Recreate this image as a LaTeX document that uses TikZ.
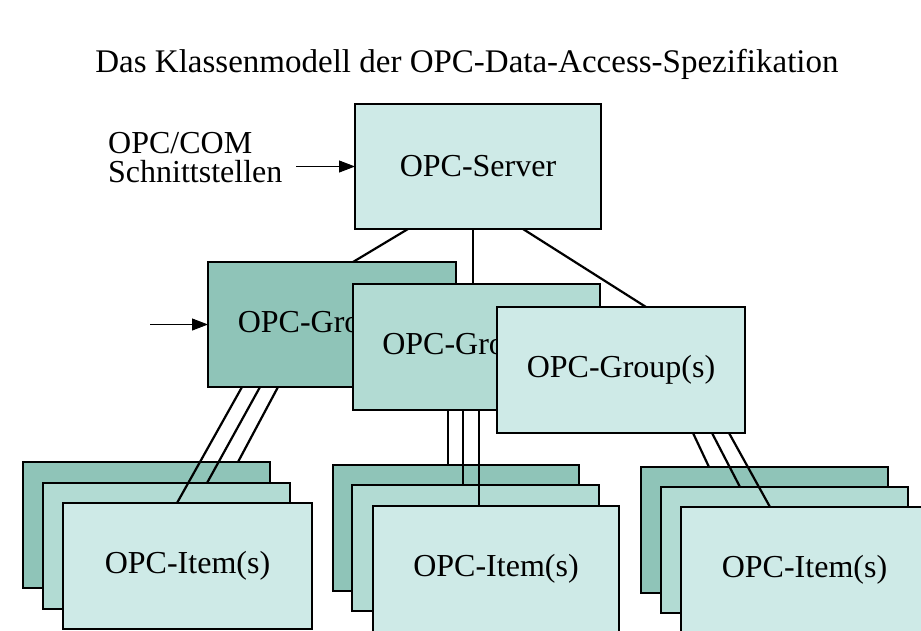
\documentclass[tikz,border=0pt]{standalone}
\usepackage{fontspec}
\setmainfont{Liberation Serif}
\usetikzlibrary{arrows.meta,calc}
\definecolor{tdark}{RGB}{143,196,184}
\definecolor{tmid}{RGB}{178,219,211}
\definecolor{tlight}{RGB}{206,234,231}
\begin{document}
\begin{tikzpicture}[x=1pt,y=-1pt,
  box/.style={draw=black,line width=2.3pt,rectangle,inner sep=0pt,outer sep=0pt,anchor=north west,minimum width=247pt,minimum height=126pt,font=\fontsize{32}{32}\selectfont},
  link/.style={draw=black,line width=2.2pt},
  ptr/.style={draw=black,line width=1pt,-{Triangle[length=16pt,width=12pt]}},
  lbl/.style={inner sep=0pt,font=\fontsize{32}{30}\selectfont,anchor=base west}]
\useasboundingbox (0,0) rectangle (921,630);
\fill[white] (0,0) rectangle (921,630);
\clip (0,0) rectangle (921,630);

\node[anchor=base,inner sep=0pt,font=\fontsize{33}{33}\selectfont] (title) at (467,72) {Das Klassenmodell der OPC-Data-Access-Spezifikation};

\node[lbl] (opccom) at (108,153) {OPC/COM};
\node[lbl] (schnitt) at (108,182) {Schnittstellen};

% server
\node[box,fill=tlight,minimum width=246pt,minimum height=125pt] (server) at (355,104) {OPC-Server};
\coordinate (a1) at (296,166.5);
\draw[ptr] (a1) -- (server.west);

% links server -> groups
\draw[link] ([xshift=53pt]server.south west) -- (353,262) coordinate (g1top);
\draw[link] ([xshift=118pt]server.south west) -- (473,284) coordinate (g2top);
\draw[link] ([xshift=168pt]server.south west) -- (646,307) coordinate (g3top);

% groups
\node[box,fill=tdark,minimum width=248pt,minimum height=125pt] (g1) at (208,262) {OPC-Group(s)};
\node[box,fill=tmid] (g2) at (353,284) {OPC-Group(s)};
\node[box,fill=tlight,minimum width=248pt] (g3) at (497,307) {OPC-Group(s)};
\coordinate (a2) at (150,324.5);
\draw[ptr] (a2) -- (g1.west);

% items left
\node[box,fill=tdark] (i1a) at (23,462) {};
\node[box,fill=tmid] (i1b) at (43,483) {};
\node[box,fill=tlight,minimum width=249pt] (i1c) at (63,503) {OPC-Item(s)};
\draw[link] ([xshift=34pt]g1.south west) -- ([xshift=114pt]i1c.north west);
\draw[link] ([xshift=52pt]g1.south west) -- ([xshift=164pt]i1b.north west);
\draw[link] ([xshift=70pt]g1.south west) -- ([xshift=215pt]i1a.north west);

% items middle
\node[box,fill=tdark,minimum width=246pt] (i2a) at (333,465) {};
\node[box,fill=tmid] (i2b) at (352,485) {};
\node[box,fill=tlight,minimum width=246pt] (i2c) at (373,506) {OPC-Item(s)};
\draw[link] ([xshift=95pt]g2.south west) -- ([xshift=115pt]i2a.north west);
\draw[link] ([xshift=110pt]g2.south west) -- ([xshift=111pt]i2b.north west);
\draw[link] ([xshift=126pt]g2.south west) -- ([xshift=106pt]i2c.north west);

% items right
\node[box,fill=tdark] (i3a) at (641,467) {};
\node[box,fill=tmid] (i3b) at (661,487) {};
\node[box,fill=tlight] (i3c) at (681,507) {OPC-Item(s)};
\draw[link] ([xshift=196pt]g3.south west) -- ([xshift=68pt]i3a.north west);
\draw[link] ([xshift=215pt]g3.south west) -- ([xshift=79pt]i3b.north west);
\draw[link] ([xshift=232pt]g3.south west) -- ([xshift=89pt]i3c.north west);
\end{tikzpicture}
\end{document}
